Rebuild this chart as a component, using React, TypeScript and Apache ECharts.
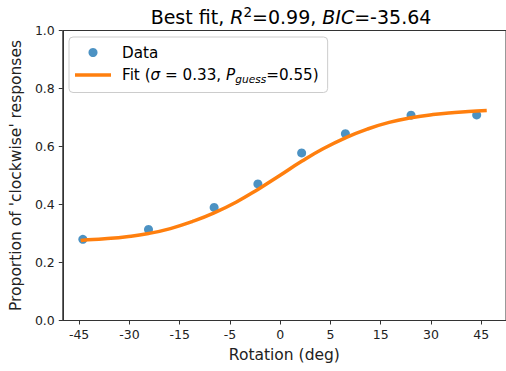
import React, { useEffect, useRef } from 'react';
import * as echarts from 'echarts';

// Tick labels shown on the x axis (equally spaced positions on the axis)
const xTickLabels = ['-45', '-30', '-15', '-5', '0', '5', '15', '30', '45'];

// Observed data (rotation in degrees, proportion clockwise)
const dataX = [-45, -30, -15, -5, 5, 15, 30, 45];
const dataY = [0.28, 0.314, 0.39, 0.471, 0.578, 0.644, 0.708, 0.709];

// Fitted curve
const fitX = [-45.5, -45, -40, -35, -30, -25, -20, -15, -10, -5, 0, 5, 10, 15, 20, 25, 30, 35, 40, 45, 47.3];
const fitY = [0.276, 0.277, 0.282, 0.289, 0.3, 0.317, 0.341, 0.371, 0.408, 0.452, 0.5, 0.549, 0.593, 0.63, 0.66, 0.683, 0.699, 0.71, 0.717, 0.722, 0.724];

const FONT = 'DejaVu Sans';

export default function App() {
  const ref = useRef<HTMLDivElement>(null);
  useEffect(() => {
    const chart = echarts.init(ref.current!, null, { renderer: 'svg' });
    chart.setOption({
      animation: false,
      backgroundColor: '#fff',
      textStyle: { fontFamily: FONT },
      title: {
        text: '{n|Best fit, }{i|R}{sup|2}{n|=0.99, }{i|BIC}{n|=-35.64}',
        left: 286,
        textAlign: 'center',
        top: 0,
        textStyle: {
          fontFamily: FONT,
          fontWeight: 'normal',
          fontSize: 19,
          color: '#000',
          rich: {
            n: { fontFamily: FONT, fontSize: 19, lineHeight: 23, color: '#000' },
            i: { fontFamily: FONT, fontSize: 19, lineHeight: 23, fontStyle: 'italic', color: '#000' },
            sup: { fontFamily: FONT, fontSize: 13.5, lineHeight: 14, verticalAlign: 'top', color: '#000' },
          },
        },
      },
      legend: {
        left: 69,
        top: 37,
        orient: 'vertical',
        itemWidth: 36,
        itemHeight: 9,
        itemGap: 7.5,
        padding: [8, 9, 8, 6],
        backgroundColor: 'rgba(255,255,255,0.85)',
        borderColor: '#cccccc',
        borderWidth: 1,
        borderRadius: 4,
        data: [
          { name: 'Data', icon: 'circle' },
          { name: 'Fit', icon: 'path://M0,0H36V3.6H0Z' },
        ],
        formatter: (name: string) =>
          name === 'Fit'
            ? '{n|Fit (}{i|σ}{n| = 0.33, }{i|P}{sub|guess}{n|=0.55)}'
            : '{n|' + name + '}',
        textStyle: {
          fontFamily: FONT,
          fontSize: 15.2,
          color: '#000',
          padding: [0, 0, 0, 6],
          rich: {
            n: { fontFamily: FONT, fontSize: 15.2, lineHeight: 19, color: '#000' },
            i: { fontFamily: FONT, fontSize: 15.2, lineHeight: 19, fontStyle: 'italic', color: '#000' },
            sub: { fontFamily: FONT, fontSize: 10.6, lineHeight: 9, fontStyle: 'italic', verticalAlign: 'bottom', color: '#000' },
          },
        },
      },
      grid: {
        left: 62,
        top: 30.5,
        width: 448,
        height: 290,
        show: true,
        borderColor: '#333',
        borderWidth: 1,
        backgroundColor: 'transparent',
      },
      xAxis: [
        {
          type: 'value',
          position: 'bottom',
          min: -0.325,
          max: 8.494,
          axisLine: { show: true, onZero: false, lineStyle: { color: '#333', width: 1 } },
          axisTick: { show: true, length: 4, lineStyle: { color: '#333' }, customValues: xTickLabels.map((_, i) => i) },
          axisLabel: {
            fontFamily: FONT,
            fontSize: 12.5,
            color: '#222',
            margin: 7,
            customValues: xTickLabels.map((_, i) => i),
            formatter: (v: number) => xTickLabels[Math.round(v)] ?? '',
          },
          splitLine: { show: false },
          name: 'Rotation (deg)',
          nameLocation: 'middle',
          nameGap: 26,
          nameTextStyle: { fontFamily: FONT, fontSize: 15.5, color: '#222' },
        },
        {
          type: 'value',
          position: 'top',
          min: -49.59,
          max: 51.7,
          show: false,
        },
      ],
      yAxis: {
        type: 'value',
        min: 0,
        max: 1,
        interval: 0.2,
        axisLine: { show: true, onZero: false, lineStyle: { color: '#333', width: 1 } },
        axisTick: { show: true, length: 4, lineStyle: { color: '#333' } },
        axisLabel: {
          fontFamily: FONT,
          fontSize: 12.5,
          color: '#222',
          margin: 8,
          formatter: (v: number) => v.toFixed(1),
        },
        splitLine: { show: false },
        name: "Proportion of 'clockwise' responses",
        nameLocation: 'middle',
        nameGap: 35,
        nameTextStyle: { fontFamily: FONT, fontSize: 15.5, color: '#222' },
      },
      series: [
        {
          name: 'Data',
          type: 'scatter',
          xAxisIndex: 1,
          symbol: 'circle',
          symbolSize: 9,
          itemStyle: { color: '#1f77b4' },
          data: dataX.map((x, i) => [x, dataY[i]]),
          z: 2,
        },
        {
          name: 'Fit',
          type: 'line',
          xAxisIndex: 1,
          smooth: true,
          symbol: 'none',
          lineStyle: { color: '#ff7f0e', width: 3.5 },
          itemStyle: { color: '#ff7f0e' },
          data: fitX.map((x, i) => [x, fitY[i]]),
          z: 3,
        },
      ],
    });
    return () => chart.dispose();
  }, []);
  return (
    <div
      ref={ref}
      style={{ position: 'fixed', left: 0, top: 0, width: 506, height: 371, background: '#fff' }}
    />
  );
}
